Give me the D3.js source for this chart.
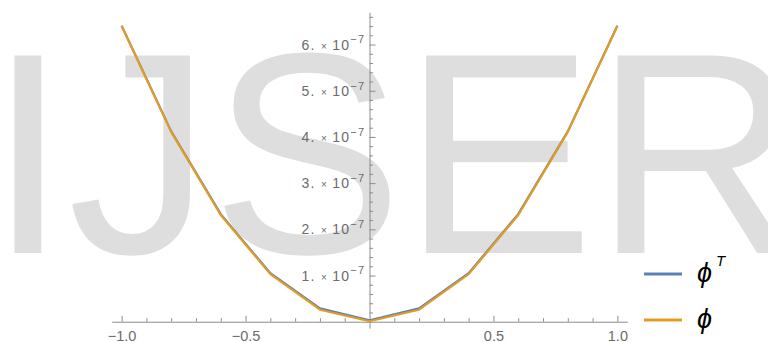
<!DOCTYPE html>
<html>
<head>
<meta charset="utf-8">
<script src="https://cdn.jsdelivr.net/npm/d3@7"></script>
<style>
  body { margin: 0; background: #fff; }
  svg { display: block; font-family: "Liberation Sans", Arial, sans-serif; }
</style>
</head>
<body>
<div id="chart"></div>
<script>
// data
const xs = [-1.0, -0.8, -0.6, -0.4, -0.2, 0.0, 0.2, 0.4, 0.6, 0.8, 1.0];
const phiT = [6.41e-7, 4.12e-7, 2.33e-7, 1.05e-7, 0.29e-7, 0.03e-7, 0.29e-7, 1.05e-7, 2.33e-7, 4.12e-7, 6.41e-7];
const phi  = [6.40e-7, 4.11e-7, 2.31e-7, 1.03e-7, 0.26e-7, 0.01e-7, 0.26e-7, 1.03e-7, 2.31e-7, 4.11e-7, 6.40e-7];
const xTicks = [-1.0, -0.5, 0.5, 1.0];
const xMinor = [-0.9, -0.8, -0.7, -0.6, -0.4, -0.3, -0.2, -0.1, 0.1, 0.2, 0.3, 0.4, 0.6, 0.7, 0.8, 0.9];
const yTicks = [1e-7, 2e-7, 3e-7, 4e-7, 5e-7, 6e-7];
const yMinor = [0.2e-7, 0.4e-7, 0.6e-7, 0.8e-7, 1.2e-7, 1.4e-7, 1.6e-7, 1.8e-7, 2.2e-7, 2.4e-7, 2.6e-7, 2.8e-7,
                3.2e-7, 3.4e-7, 3.6e-7, 3.8e-7, 4.2e-7, 4.4e-7, 4.6e-7, 4.8e-7, 5.2e-7, 5.4e-7, 5.6e-7, 5.8e-7,
                6.2e-7, 6.4e-7, 6.6e-7];
const series = [
  {name: "phiT", values: phiT, color: "#5e81b5", sup: "T"},
  {name: "phi", values: phi, color: "#e19c24", sup: ""}
];

const width = 768;
const height = 342;
const axisColor = "#8c8c8c";
const labelColor = "#6b6b6b";

const svg = d3.select("#chart").append("svg")
    .attr("width", width)
    .attr("height", height);

// watermark
svg.append("text")
    .attr("x", -12)
    .attr("y", 253)
    .attr("font-size", 287)
    .attr("fill", "#dedede")
    .text("IJSER");

const x = d3.scaleLinear()
    .domain([-1.04, 1.04])
    .range([111.7, 627.3]);

const y = d3.scaleLinear()
    .domain([-0.14e-7, 6.7e-7])
    .range([328.2, 12.2]);

// x axis
const xAxisG = svg.append("g")
    .attr("transform", `translate(0,${y(0)})`);

xAxisG.append("g")
    .call(d3.axisBottom(x).tickValues(xMinor).tickSize(-3.5).tickSizeOuter(0).tickFormat(""))
    .call(g => g.select(".domain").remove());

xAxisG.append("g")
    .call(d3.axisBottom(x).tickValues(xTicks).tickSize(-6).tickSizeOuter(0).tickPadding(19).tickFormat(d3.format(".1f")))
    .call(g => g.select(".domain").attr("stroke", axisColor))
    .call(g => g.selectAll(".tick text").attr("dy", 0).attr("font-size", 14.5).attr("fill", labelColor));

xAxisG.selectAll("line").attr("stroke", axisColor);

// y axis
const yAxisG = svg.append("g")
    .attr("transform", `translate(${x(0)},0)`);

yAxisG.append("g")
    .call(d3.axisLeft(y).tickValues(yMinor).tickSize(-3.5).tickSizeOuter(0).tickFormat(""))
    .call(g => g.select(".domain").remove());

yAxisG.append("g")
    .call(d3.axisLeft(y).tickValues(yTicks).tickSize(-6).tickSizeOuter(0).tickPadding(4))
    .call(g => g.select(".domain").attr("stroke", axisColor))
    .call(g => g.selectAll(".tick text").each(function(d) {
        const t = d3.select(this).text("")
            .attr("font-size", 14)
            .attr("letter-spacing", 1.3)
            .attr("fill", labelColor)
            .attr("dy", "0.32em");
        t.append("tspan").text(Math.round(d * 1e7) + ". ");
        t.append("tspan").attr("font-size", 10).text("× ");
        t.append("tspan").text("10");
        t.append("tspan").attr("font-size", 11).attr("dy", "-0.55em").text("−7");
    }));

yAxisG.selectAll("line").attr("stroke", axisColor);

// lines
const line = d3.line()
    .x((d, i) => x(xs[i]))
    .y(d => y(d));

svg.append("g")
    .selectAll("path")
    .data(series)
    .join("path")
    .attr("d", d => line(d.values))
    .attr("fill", "none")
    .attr("stroke", d => d.color)
    .attr("stroke-width", 2.2)
    .attr("stroke-linejoin", "round");

// legend
const legend = svg.append("g")
    .selectAll("g")
    .data(series)
    .join("g")
    .attr("transform", (d, i) => `translate(644,${274 + i * 46})`);

legend.append("line")
    .attr("x1", 0)
    .attr("x2", 38)
    .attr("stroke", d => d.color)
    .attr("stroke-width", 3);

const lt = legend.append("text")
    .attr("x", 53)
    .attr("y", 8)
    .attr("font-size", 27)
    .attr("font-style", "italic")
    .attr("fill", "#000");
lt.append("tspan").text("ϕ");
lt.append("tspan")
    .attr("font-size", 15)
    .attr("dx", 4)
    .attr("dy", -16)
    .text(d => d.sup);
</script>
</body>
</html>
